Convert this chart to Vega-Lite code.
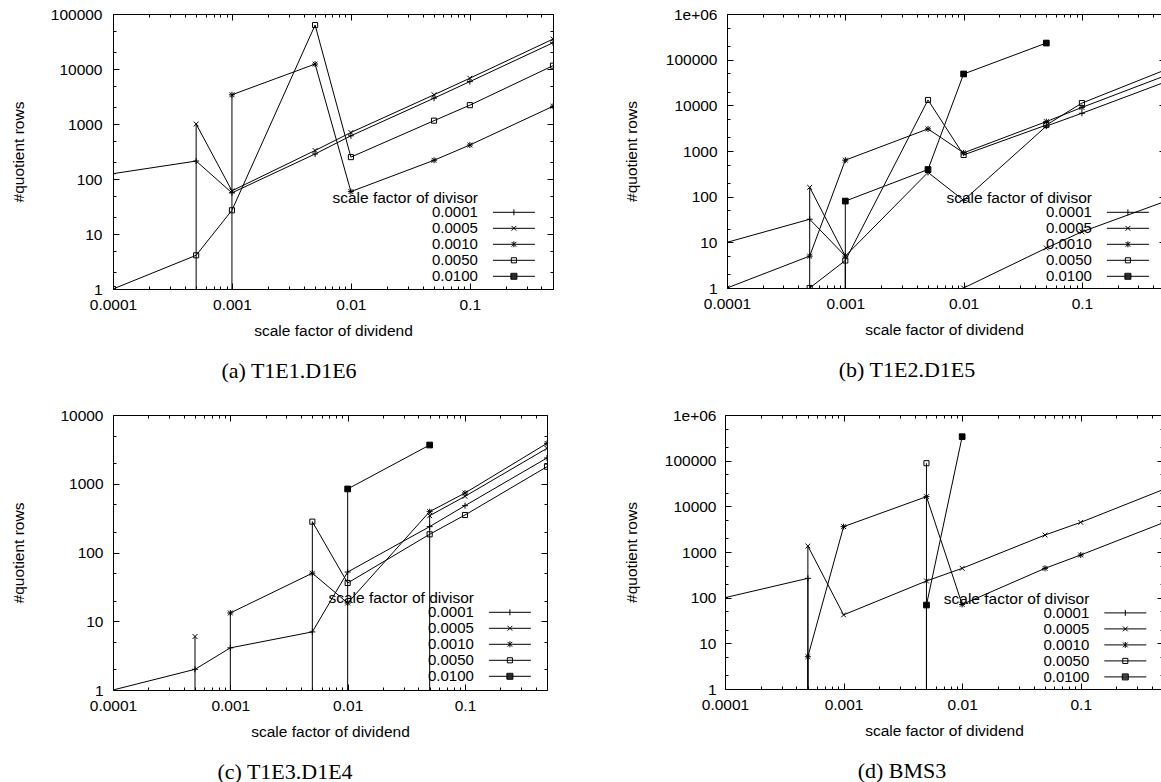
{
  "$schema": "https://vega.github.io/schema/vega-lite/v6.json",
  "background": "white",
  "padding": {"left": 0, "top": 7, "right": 0, "bottom": 0},
  "autosize": {"type": "pad"},
  "datasets": {
    "pts": [
      {"panel":"a","divisor":"0.0001","dividend":0.0001,"rows":125},
      {"panel":"a","divisor":"0.0001","dividend":0.0005,"rows":212},
      {"panel":"a","divisor":"0.0001","dividend":0.001,"rows":56},
      {"panel":"a","divisor":"0.0001","dividend":0.005,"rows":285},
      {"panel":"a","divisor":"0.0001","dividend":0.01,"rows":610},
      {"panel":"a","divisor":"0.0001","dividend":0.05,"rows":2950},
      {"panel":"a","divisor":"0.0001","dividend":0.1,"rows":5900},
      {"panel":"a","divisor":"0.0001","dividend":0.5,"rows":30000},
      {"panel":"a","divisor":"0.0005","dividend":0.0001,"rows":null},
      {"panel":"a","divisor":"0.0005","dividend":0.0005,"rows":1000},
      {"panel":"a","divisor":"0.0005","dividend":0.001,"rows":61},
      {"panel":"a","divisor":"0.0005","dividend":0.005,"rows":330},
      {"panel":"a","divisor":"0.0005","dividend":0.01,"rows":700},
      {"panel":"a","divisor":"0.0005","dividend":0.05,"rows":3400},
      {"panel":"a","divisor":"0.0005","dividend":0.1,"rows":6800},
      {"panel":"a","divisor":"0.0005","dividend":0.5,"rows":35000},
      {"panel":"a","divisor":"0.0010","dividend":0.0001,"rows":null},
      {"panel":"a","divisor":"0.0010","dividend":0.0005,"rows":null},
      {"panel":"a","divisor":"0.0010","dividend":0.001,"rows":3400},
      {"panel":"a","divisor":"0.0010","dividend":0.005,"rows":12300},
      {"panel":"a","divisor":"0.0010","dividend":0.01,"rows":59},
      {"panel":"a","divisor":"0.0010","dividend":0.05,"rows":219},
      {"panel":"a","divisor":"0.0010","dividend":0.1,"rows":415},
      {"panel":"a","divisor":"0.0010","dividend":0.5,"rows":2100},
      {"panel":"a","divisor":"0.0050","dividend":0.0001,"rows":1},
      {"panel":"a","divisor":"0.0050","dividend":0.0005,"rows":4.1},
      {"panel":"a","divisor":"0.0050","dividend":0.001,"rows":27},
      {"panel":"a","divisor":"0.0050","dividend":0.005,"rows":63000},
      {"panel":"a","divisor":"0.0050","dividend":0.01,"rows":250},
      {"panel":"a","divisor":"0.0050","dividend":0.05,"rows":1150},
      {"panel":"a","divisor":"0.0050","dividend":0.1,"rows":2200},
      {"panel":"a","divisor":"0.0050","dividend":0.5,"rows":11500},

      {"panel":"b","divisor":"0.0001","dividend":0.0001,"rows":10},
      {"panel":"b","divisor":"0.0001","dividend":0.0005,"rows":32},
      {"panel":"b","divisor":"0.0001","dividend":0.001,"rows":5},
      {"panel":"b","divisor":"0.0001","dividend":0.005,"rows":340},
      {"panel":"b","divisor":"0.0001","dividend":0.01,"rows":83},
      {"panel":"b","divisor":"0.0001","dividend":0.05,"rows":3500},
      {"panel":"b","divisor":"0.0001","dividend":0.1,"rows":6700},
      {"panel":"b","divisor":"0.0001","dividend":0.5,"rows":32000},
      {"panel":"b","divisor":"0.0005","dividend":0.0001,"rows":null},
      {"panel":"b","divisor":"0.0005","dividend":0.0005,"rows":160},
      {"panel":"b","divisor":"0.0005","dividend":0.001,"rows":5},
      {"panel":"b","divisor":"0.0005","dividend":0.005,"rows":null},
      {"panel":"b","divisor":"0.0005","dividend":0.01,"rows":1},
      {"panel":"b","divisor":"0.0005","dividend":0.05,"rows":7.5},
      {"panel":"b","divisor":"0.0005","dividend":0.1,"rows":17},
      {"panel":"b","divisor":"0.0005","dividend":0.5,"rows":78},
      {"panel":"b","divisor":"0.0010","dividend":0.0001,"rows":1},
      {"panel":"b","divisor":"0.0010","dividend":0.0005,"rows":5},
      {"panel":"b","divisor":"0.0010","dividend":0.001,"rows":630},
      {"panel":"b","divisor":"0.0010","dividend":0.005,"rows":3050},
      {"panel":"b","divisor":"0.0010","dividend":0.01,"rows":910},
      {"panel":"b","divisor":"0.0010","dividend":0.05,"rows":4400},
      {"panel":"b","divisor":"0.0010","dividend":0.1,"rows":9000},
      {"panel":"b","divisor":"0.0010","dividend":0.5,"rows":44000},
      {"panel":"b","divisor":"0.0050","dividend":0.0001,"rows":null},
      {"panel":"b","divisor":"0.0050","dividend":0.0005,"rows":1},
      {"panel":"b","divisor":"0.0050","dividend":0.001,"rows":4},
      {"panel":"b","divisor":"0.0050","dividend":0.005,"rows":13100},
      {"panel":"b","divisor":"0.0050","dividend":0.01,"rows":820},
      {"panel":"b","divisor":"0.0050","dividend":0.05,"rows":3700},
      {"panel":"b","divisor":"0.0050","dividend":0.1,"rows":11200},
      {"panel":"b","divisor":"0.0050","dividend":0.5,"rows":59000},
      {"panel":"b","divisor":"0.0100","dividend":0.0001,"rows":null},
      {"panel":"b","divisor":"0.0100","dividend":0.0005,"rows":null},
      {"panel":"b","divisor":"0.0100","dividend":0.001,"rows":80},
      {"panel":"b","divisor":"0.0100","dividend":0.005,"rows":393},
      {"panel":"b","divisor":"0.0100","dividend":0.01,"rows":48600},
      {"panel":"b","divisor":"0.0100","dividend":0.05,"rows":231000},

      {"panel":"c","divisor":"0.0001","dividend":0.0001,"rows":1},
      {"panel":"c","divisor":"0.0001","dividend":0.0005,"rows":2},
      {"panel":"c","divisor":"0.0001","dividend":0.001,"rows":4.1},
      {"panel":"c","divisor":"0.0001","dividend":0.005,"rows":7},
      {"panel":"c","divisor":"0.0001","dividend":0.01,"rows":52},
      {"panel":"c","divisor":"0.0001","dividend":0.05,"rows":238},
      {"panel":"c","divisor":"0.0001","dividend":0.1,"rows":480},
      {"panel":"c","divisor":"0.0001","dividend":0.5,"rows":2370},
      {"panel":"c","divisor":"0.0005","dividend":0.0001,"rows":null},
      {"panel":"c","divisor":"0.0005","dividend":0.0005,"rows":6},
      {"panel":"c","divisor":"0.0005","dividend":0.001,"rows":null},
      {"panel":"c","divisor":"0.0005","dividend":0.005,"rows":null},
      {"panel":"c","divisor":"0.0005","dividend":0.01,"rows":null},
      {"panel":"c","divisor":"0.0005","dividend":0.05,"rows":343},
      {"panel":"c","divisor":"0.0005","dividend":0.1,"rows":656},
      {"panel":"c","divisor":"0.0005","dividend":0.5,"rows":3275},
      {"panel":"c","divisor":"0.0010","dividend":0.0001,"rows":null},
      {"panel":"c","divisor":"0.0010","dividend":0.0005,"rows":null},
      {"panel":"c","divisor":"0.0010","dividend":0.001,"rows":13.2},
      {"panel":"c","divisor":"0.0010","dividend":0.005,"rows":50},
      {"panel":"c","divisor":"0.0010","dividend":0.01,"rows":18.4},
      {"panel":"c","divisor":"0.0010","dividend":0.05,"rows":393},
      {"panel":"c","divisor":"0.0010","dividend":0.1,"rows":733},
      {"panel":"c","divisor":"0.0010","dividend":0.5,"rows":3870},
      {"panel":"c","divisor":"0.0050","dividend":0.001,"rows":null},
      {"panel":"c","divisor":"0.0050","dividend":0.005,"rows":281},
      {"panel":"c","divisor":"0.0050","dividend":0.01,"rows":36},
      {"panel":"c","divisor":"0.0050","dividend":0.05,"rows":184},
      {"panel":"c","divisor":"0.0050","dividend":0.1,"rows":351},
      {"panel":"c","divisor":"0.0050","dividend":0.5,"rows":1770},
      {"panel":"c","divisor":"0.0100","dividend":0.005,"rows":null},
      {"panel":"c","divisor":"0.0100","dividend":0.01,"rows":840},
      {"panel":"c","divisor":"0.0100","dividend":0.05,"rows":3660},

      {"panel":"d","divisor":"0.0001","dividend":0.0001,"rows":100},
      {"panel":"d","divisor":"0.0001","dividend":0.0005,"rows":265},
      {"panel":"d","divisor":"0.0001","dividend":0.001,"rows":null},
      {"panel":"d","divisor":"0.0005","dividend":0.0001,"rows":null},
      {"panel":"d","divisor":"0.0005","dividend":0.0005,"rows":1350},
      {"panel":"d","divisor":"0.0005","dividend":0.001,"rows":42},
      {"panel":"d","divisor":"0.0005","dividend":0.005,"rows":232},
      {"panel":"d","divisor":"0.0005","dividend":0.01,"rows":439},
      {"panel":"d","divisor":"0.0005","dividend":0.05,"rows":2355},
      {"panel":"d","divisor":"0.0005","dividend":0.1,"rows":4460},
      {"panel":"d","divisor":"0.0005","dividend":0.5,"rows":23500},
      {"panel":"d","divisor":"0.0010","dividend":0.0001,"rows":null},
      {"panel":"d","divisor":"0.0010","dividend":0.0005,"rows":5.1},
      {"panel":"d","divisor":"0.0010","dividend":0.001,"rows":3590},
      {"panel":"d","divisor":"0.0010","dividend":0.005,"rows":16300},
      {"panel":"d","divisor":"0.0010","dividend":0.01,"rows":71},
      {"panel":"d","divisor":"0.0010","dividend":0.05,"rows":439},
      {"panel":"d","divisor":"0.0010","dividend":0.1,"rows":860},
      {"panel":"d","divisor":"0.0010","dividend":0.5,"rows":4400},
      {"panel":"d","divisor":"0.0050","dividend":0.001,"rows":null},
      {"panel":"d","divisor":"0.0050","dividend":0.005,"rows":88000},
      {"panel":"d","divisor":"0.0050","dividend":0.01,"rows":null},
      {"panel":"d","divisor":"0.0100","dividend":0.001,"rows":null},
      {"panel":"d","divisor":"0.0100","dividend":0.005,"rows":69},
      {"panel":"d","divisor":"0.0100","dividend":0.01,"rows":335000}
    ],
    "drops": [
      {"panel":"a","divisor":"0.0005","dividend":0.0005,"rows":1000},
      {"panel":"a","divisor":"0.0010","dividend":0.001,"rows":3400},
      {"panel":"b","divisor":"0.0005","dividend":0.0005,"rows":160},
      {"panel":"b","divisor":"0.0100","dividend":0.001,"rows":80},
      {"panel":"b","divisor":"0.0005","dividend":0.001,"rows":5},
      {"panel":"c","divisor":"0.0005","dividend":0.0005,"rows":6},
      {"panel":"c","divisor":"0.0010","dividend":0.001,"rows":13.2},
      {"panel":"c","divisor":"0.0050","dividend":0.005,"rows":281},
      {"panel":"c","divisor":"0.0100","dividend":0.01,"rows":840},
      {"panel":"c","divisor":"0.0005","dividend":0.05,"rows":343},
      {"panel":"d","divisor":"0.0005","dividend":0.0005,"rows":1350},
      {"panel":"d","divisor":"0.0001","dividend":0.0005,"rows":265},
      {"panel":"d","divisor":"0.0010","dividend":0.0005,"rows":5.1},
      {"panel":"d","divisor":"0.0050","dividend":0.005,"rows":88000},
      {"panel":"d","divisor":"0.0100","dividend":0.005,"rows":69}
    ]
  },
  "config": {
    "view": {"stroke": null},
    "axis": {
      "labelFont": "Liberation Sans", "labelFontSize": 15.5, "labelColor": "black",
      "titleFont": "Liberation Sans", "titleFontSize": 15.5, "titleFontWeight": "normal", "titleColor": "black",
      "domainColor": "black", "domainWidth": 1, "tickColor": "black", "tickWidth": 1, "grid": false,
      "labelOverlap": false, "labelFlush": false
    },
    "legend": {
      "titleFont": "Liberation Sans", "titleFontSize": 15.5, "titleFontWeight": "normal", "titleColor": "black",
      "titlePadding": -1.7, "titleAnchor": "start",
      "labelFont": "Liberation Sans", "labelFontSize": 15, "labelColor": "black",
      "labelAlign": "right", "labelOffset": -43.5, "symbolOffset": 174, "rowPadding": 0,
      "symbolSize": 36, "symbolStrokeWidth": 1, "symbolStrokeColor": "black", "padding": 0
    },
    "title": {"font": "Liberation Serif", "fontSize": 22, "fontWeight": "normal", "color": "black", "orient": "bottom", "frame": "group", "anchor": "middle", "offset": 22}
  },
  "spacing": 26,
  "resolve": {"scale": {"shape": "independent"}, "legend": {"shape": "independent"}},
  "vconcat": [
    {
      "spacing": 69,
      "resolve": {"scale": {"shape": "independent"}, "legend": {"shape": "independent"}},
      "hconcat": [
        {
          "width": 440, "height": 275,
          "title": {"text": "(a) T1E1.D1E6", "dx": -44},
          "resolve": {"axis": {"x": "independent", "y": "independent"}, "scale": {"shape": "independent"}},
          "layer": [
            {
              "data": {"name": "pts"},
              "transform": [{"filter": "datum.panel === 'a'"}],
              "mark": {"type": "line", "color": "black", "strokeWidth": 1, "clip": true, "invalid": "break-paths-filter-domains"},
              "encoding": {
                "x": {"field": "dividend", "type": "quantitative", "scale": {"type": "log", "domain": [0.0001, 0.5], "nice": false},
                  "axis": {"orient": "bottom", "values": [0.0001,0.0002,0.0003,0.0004,0.0005,0.0006,0.0007,0.0008,0.0009,0.001,0.002,0.003,0.004,0.005,0.006,0.007,0.008,0.009,0.01,0.02,0.03,0.04,0.05,0.06,0.07,0.08,0.09,0.1,0.2,0.3,0.4],
                    "labelExpr": "abs(log(datum.value)/LN10-round(log(datum.value)/LN10))<0.001 ? toString(datum.value) : ''",
                    "tickSize": {"condition": {"test": "abs(log(datum.value)/LN10-round(log(datum.value)/LN10))<0.001", "value": -6}, "value": -3},
                    "labelPadding": 14, "title": "scale factor of dividend", "titlePadding": 8}},
                "y": {"field": "rows", "type": "quantitative", "scale": {"type": "log", "domain": [1, 100000], "nice": false},
                  "axis": {"orient": "left", "values": [1,2,5,10,20,50,100,200,500,1000,2000,5000,10000,20000,50000,100000],
                    "labelExpr": "abs(log(datum.value)/LN10-round(log(datum.value)/LN10))<0.001 ? (datum.value > 999999 ? '1e+06' : toString(datum.value)) : ''",
                    "tickSize": {"condition": {"test": "abs(log(datum.value)/LN10-round(log(datum.value)/LN10))<0.001", "value": -6}, "value": -3},
                    "labelPadding": 17, "title": "#quotient rows", "titleX": -87, "minExtent": 113, "maxExtent": 113}},
                "detail": {"field": "divisor"}
              }
            },
            {
              "data": {"name": "drops"},
              "transform": [{"filter": "datum.panel === 'a'"}],
              "mark": {"type": "rule", "color": "black", "strokeWidth": 1, "clip": true},
              "encoding": {
                "x": {"field": "dividend", "type": "quantitative", "axis": null},
                "y": {"field": "rows", "type": "quantitative", "axis": null},
                "y2": {"datum": 1}
              }
            },
            {
              "data": {"name": "pts"},
              "transform": [{"filter": "datum.panel === 'a'"}],
              "mark": {"type": "point", "clip": true, "size": 36, "strokeWidth": 1, "opacity": 1},
              "encoding": {
                "x": {"field": "dividend", "type": "quantitative",
                  "axis": {"orient": "top", "values": [0.0001,0.0002,0.0003,0.0004,0.0005,0.0006,0.0007,0.0008,0.0009,0.001,0.002,0.003,0.004,0.005,0.006,0.007,0.008,0.009,0.01,0.02,0.03,0.04,0.05,0.06,0.07,0.08,0.09,0.1,0.2,0.3,0.4],
                    "labels": false, "title": null, "minExtent": 0, "maxExtent": 0,
                    "tickSize": {"condition": {"test": "abs(log(datum.value)/LN10-round(log(datum.value)/LN10))<0.001", "value": -6}, "value": -3}}},
                "y": {"field": "rows", "type": "quantitative",
                  "axis": {"orient": "right", "values": [1,2,5,10,20,50,100,200,500,1000,2000,5000,10000,20000,50000,100000],
                    "labels": false, "title": null, "minExtent": 0, "maxExtent": 0,
                    "tickSize": {"condition": {"test": "abs(log(datum.value)/LN10-round(log(datum.value)/LN10))<0.001", "value": -6}, "value": -3}}},
                "shape": {"field": "divisor", "type": "nominal", "legend": null,
                  "scale": {"domain": ["0.0001","0.0005","0.0010","0.0050","0.0100"],
                    "range": ["M-1,0H1M0,-1V1", "M-0.8,-0.8L0.8,0.8M-0.8,0.8L0.8,-0.8", "M-1,0H1M0,-1V1M-0.8,-0.8L0.8,0.8M-0.8,0.8L0.8,-0.8", "M-0.85,-0.85H0.85V0.85H-0.85Z", "M-0.95,-0.95H0.95V0.95H-0.95Z"]}},
                "fill": {"condition": {"test": "datum.divisor === '0.0100'", "value": "black"}, "value": "transparent"},
                "stroke": {"value": "black"}
              }
            },
            {
              "data": {"name": "pts"},
              "transform": [{"filter": "false"}],
              "mark": {"type": "point", "size": 36, "strokeWidth": 1, "opacity": 1, "color": "black", "filled": false},
              "encoding": {
                "shape": {"field": "divisor", "type": "nominal",
                  "scale": {"domain": ["0.0001","0.0005","0.0010","0.0050","0.0100"],
                    "range": ["M-7,0H7M0,-1V1", "M-7,0H7M-0.8,-0.8L0.8,0.8M-0.8,0.8L0.8,-0.8", "M-7,0H7M0,-1V1M-0.8,-0.8L0.8,0.8M-0.8,0.8L0.8,-0.8", "M-7,0H7M-0.85,-0.85H0.85V0.85H-0.85Z", "M-7,0H7M-1,-1H1V1H-1ZM-1,-0.67H1M-1,-0.33H1M-1,0.33H1M-1,0.67H1"]},
                  "legend": {"orient": "none", "direction": "vertical", "legendX": 219.4, "legendY": 177, "rowPadding": 0, "title": "scale factor of divisor"}},
                "stroke": {"value": "black"}
              }
            }
          ]
        },
        {
          "width": 434, "height": 274,
          "title": {"text": "(b) T1E2.D1E5", "dx": -37},
          "resolve": {"axis": {"x": "independent", "y": "independent"}, "scale": {"shape": "independent"}},
          "layer": [
            {
              "data": {"name": "pts"},
              "transform": [{"filter": "datum.panel === 'b'"}],
              "mark": {"type": "line", "color": "black", "strokeWidth": 1, "clip": true, "invalid": "break-paths-filter-domains"},
              "encoding": {
                "x": {"field": "dividend", "type": "quantitative", "scale": {"type": "log", "domain": [0.0001, 0.466], "nice": false},
                  "axis": {"orient": "bottom", "values": [0.0001,0.0002,0.0003,0.0004,0.0005,0.0006,0.0007,0.0008,0.0009,0.001,0.002,0.003,0.004,0.005,0.006,0.007,0.008,0.009,0.01,0.02,0.03,0.04,0.05,0.06,0.07,0.08,0.09,0.1,0.2,0.3,0.4],
                    "labelExpr": "abs(log(datum.value)/LN10-round(log(datum.value)/LN10))<0.001 ? toString(datum.value) : ''",
                    "tickSize": {"condition": {"test": "abs(log(datum.value)/LN10-round(log(datum.value)/LN10))<0.001", "value": -6}, "value": -3},
                    "labelPadding": 14, "title": "scale factor of dividend", "titlePadding": 8}},
                "y": {"field": "rows", "type": "quantitative", "scale": {"type": "log", "domain": [1, 1000000], "nice": false},
                  "axis": {"orient": "left", "values": [1,2,5,10,20,50,100,200,500,1000,2000,5000,10000,20000,50000,100000,200000,500000,1000000],
                    "labelExpr": "abs(log(datum.value)/LN10-round(log(datum.value)/LN10))<0.001 ? (datum.value > 999999 ? '1e+06' : toString(datum.value)) : ''",
                    "tickSize": {"condition": {"test": "abs(log(datum.value)/LN10-round(log(datum.value)/LN10))<0.001", "value": -6}, "value": -3},
                    "labelPadding": 16, "title": "#quotient rows", "titleX": -88, "minExtent": 100, "maxExtent": 100}},
                "detail": {"field": "divisor"}
              }
            },
            {
              "data": {"name": "drops"},
              "transform": [{"filter": "datum.panel === 'b'"}],
              "mark": {"type": "rule", "color": "black", "strokeWidth": 1, "clip": true},
              "encoding": {
                "x": {"field": "dividend", "type": "quantitative", "axis": null},
                "y": {"field": "rows", "type": "quantitative", "axis": null},
                "y2": {"datum": 1}
              }
            },
            {
              "data": {"name": "pts"},
              "transform": [{"filter": "datum.panel === 'b'"}],
              "mark": {"type": "point", "clip": true, "size": 36, "strokeWidth": 1, "opacity": 1},
              "encoding": {
                "x": {"field": "dividend", "type": "quantitative",
                  "axis": {"orient": "top", "values": [0.0001,0.0002,0.0003,0.0004,0.0005,0.0006,0.0007,0.0008,0.0009,0.001,0.002,0.003,0.004,0.005,0.006,0.007,0.008,0.009,0.01,0.02,0.03,0.04,0.05,0.06,0.07,0.08,0.09,0.1,0.2,0.3,0.4],
                    "labels": false, "title": null, "minExtent": 0, "maxExtent": 0,
                    "tickSize": {"condition": {"test": "abs(log(datum.value)/LN10-round(log(datum.value)/LN10))<0.001", "value": -6}, "value": -3}}},
                "y": {"field": "rows", "type": "quantitative",
                  "axis": {"orient": "right", "values": [1,10,100,1000,10000,100000,1000000],
                    "labels": false, "title": null, "minExtent": 0, "maxExtent": 0, "domain": false, "tickSize": -2}},
                "shape": {"field": "divisor", "type": "nominal", "legend": null,
                  "scale": {"domain": ["0.0001","0.0005","0.0010","0.0050","0.0100"],
                    "range": ["M-1,0H1M0,-1V1", "M-0.8,-0.8L0.8,0.8M-0.8,0.8L0.8,-0.8", "M-1,0H1M0,-1V1M-0.8,-0.8L0.8,0.8M-0.8,0.8L0.8,-0.8", "M-0.85,-0.85H0.85V0.85H-0.85Z", "M-0.95,-0.95H0.95V0.95H-0.95Z"]}},
                "fill": {"condition": {"test": "datum.divisor === '0.0100'", "value": "black"}, "value": "transparent"},
                "stroke": {"value": "black"}
              }
            },
            {
              "data": {"name": "pts"},
              "transform": [{"filter": "false"}],
              "mark": {"type": "point", "size": 36, "strokeWidth": 1, "opacity": 1, "color": "black", "filled": false},
              "encoding": {
                "shape": {"field": "divisor", "type": "nominal",
                  "scale": {"domain": ["0.0001","0.0005","0.0010","0.0050","0.0100"],
                    "range": ["M-7,0H7M0,-1V1", "M-7,0H7M-0.8,-0.8L0.8,0.8M-0.8,0.8L0.8,-0.8", "M-7,0H7M0,-1V1M-0.8,-0.8L0.8,0.8M-0.8,0.8L0.8,-0.8", "M-7,0H7M-0.85,-0.85H0.85V0.85H-0.85Z", "M-7,0H7M-1,-1H1V1H-1ZM-1,-0.67H1M-1,-0.33H1M-1,0.33H1M-1,0.67H1"]},
                  "legend": {"orient": "none", "direction": "vertical", "legendX": 219.4, "legendY": 177, "rowPadding": 0, "title": "scale factor of divisor"}},
                "stroke": {"value": "black"}
              }
            }
          ]
        }
      ]
    },
    {
      "spacing": 75,
      "resolve": {"scale": {"shape": "independent"}, "legend": {"shape": "independent"}},
      "hconcat": [
        {
          "width": 434, "height": 275,
          "title": {"text": "(c) T1E3.D1E4", "dx": -45},
          "resolve": {"axis": {"x": "independent", "y": "independent"}, "scale": {"shape": "independent"}},
          "layer": [
            {
              "data": {"name": "pts"},
              "transform": [{"filter": "datum.panel === 'c'"}],
              "mark": {"type": "line", "color": "black", "strokeWidth": 1, "clip": true, "invalid": "break-paths-filter-domains"},
              "encoding": {
                "x": {"field": "dividend", "type": "quantitative", "scale": {"type": "log", "domain": [0.0001, 0.5], "nice": false},
                  "axis": {"orient": "bottom", "values": [0.0001,0.0002,0.0003,0.0004,0.0005,0.0006,0.0007,0.0008,0.0009,0.001,0.002,0.003,0.004,0.005,0.006,0.007,0.008,0.009,0.01,0.02,0.03,0.04,0.05,0.06,0.07,0.08,0.09,0.1,0.2,0.3,0.4],
                    "labelExpr": "abs(log(datum.value)/LN10-round(log(datum.value)/LN10))<0.001 ? toString(datum.value) : ''",
                    "tickSize": {"condition": {"test": "abs(log(datum.value)/LN10-round(log(datum.value)/LN10))<0.001", "value": -6}, "value": -3},
                    "labelPadding": 14, "title": "scale factor of dividend", "titlePadding": 8}},
                "y": {"field": "rows", "type": "quantitative", "scale": {"type": "log", "domain": [1, 10000], "nice": false},
                  "axis": {"orient": "left", "values": [1,2,5,10,20,50,100,200,500,1000,2000,5000,10000],
                    "labelExpr": "abs(log(datum.value)/LN10-round(log(datum.value)/LN10))<0.001 ? (datum.value > 999999 ? '1e+06' : toString(datum.value)) : ''",
                    "tickSize": {"condition": {"test": "abs(log(datum.value)/LN10-round(log(datum.value)/LN10))<0.001", "value": -6}, "value": -3},
                    "labelPadding": 16, "title": "#quotient rows", "titleX": -87, "minExtent": 113, "maxExtent": 113}},
                "detail": {"field": "divisor"}
              }
            },
            {
              "data": {"name": "drops"},
              "transform": [{"filter": "datum.panel === 'c'"}],
              "mark": {"type": "rule", "color": "black", "strokeWidth": 1, "clip": true},
              "encoding": {
                "x": {"field": "dividend", "type": "quantitative", "axis": null},
                "y": {"field": "rows", "type": "quantitative", "axis": null},
                "y2": {"datum": 1}
              }
            },
            {
              "data": {"name": "pts"},
              "transform": [{"filter": "datum.panel === 'c'"}],
              "mark": {"type": "point", "clip": true, "size": 36, "strokeWidth": 1, "opacity": 1},
              "encoding": {
                "x": {"field": "dividend", "type": "quantitative",
                  "axis": {"orient": "top", "values": [0.0001,0.0002,0.0003,0.0004,0.0005,0.0006,0.0007,0.0008,0.0009,0.001,0.002,0.003,0.004,0.005,0.006,0.007,0.008,0.009,0.01,0.02,0.03,0.04,0.05,0.06,0.07,0.08,0.09,0.1,0.2,0.3,0.4],
                    "labels": false, "title": null, "minExtent": 0, "maxExtent": 0,
                    "tickSize": {"condition": {"test": "abs(log(datum.value)/LN10-round(log(datum.value)/LN10))<0.001", "value": -6}, "value": -3}}},
                "y": {"field": "rows", "type": "quantitative",
                  "axis": {"orient": "right", "values": [1,2,5,10,20,50,100,200,500,1000,2000,5000,10000],
                    "labels": false, "title": null, "minExtent": 0, "maxExtent": 0,
                    "tickSize": {"condition": {"test": "abs(log(datum.value)/LN10-round(log(datum.value)/LN10))<0.001", "value": -6}, "value": -3}}},
                "shape": {"field": "divisor", "type": "nominal", "legend": null,
                  "scale": {"domain": ["0.0001","0.0005","0.0010","0.0050","0.0100"],
                    "range": ["M-1,0H1M0,-1V1", "M-0.8,-0.8L0.8,0.8M-0.8,0.8L0.8,-0.8", "M-1,0H1M0,-1V1M-0.8,-0.8L0.8,0.8M-0.8,0.8L0.8,-0.8", "M-0.85,-0.85H0.85V0.85H-0.85Z", "M-0.95,-0.95H0.95V0.95H-0.95Z"]}},
                "fill": {"condition": {"test": "datum.divisor === '0.0100'", "value": "black"}, "value": "transparent"},
                "stroke": {"value": "black"}
              }
            },
            {
              "data": {"name": "pts"},
              "transform": [{"filter": "false"}],
              "mark": {"type": "point", "size": 36, "strokeWidth": 1, "opacity": 1, "color": "black", "filled": false},
              "encoding": {
                "shape": {"field": "divisor", "type": "nominal",
                  "scale": {"domain": ["0.0001","0.0005","0.0010","0.0050","0.0100"],
                    "range": ["M-7,0H7M0,-1V1", "M-7,0H7M-0.8,-0.8L0.8,0.8M-0.8,0.8L0.8,-0.8", "M-7,0H7M0,-1V1M-0.8,-0.8L0.8,0.8M-0.8,0.8L0.8,-0.8", "M-7,0H7M-0.85,-0.85H0.85V0.85H-0.85Z", "M-7,0H7M-1,-1H1V1H-1ZM-1,-0.67H1M-1,-0.33H1M-1,0.33H1M-1,0.67H1"]},
                  "legend": {"orient": "none", "direction": "vertical", "legendX": 215.4, "legendY": 176, "rowPadding": 0, "title": "scale factor of divisor"}},
                "stroke": {"value": "black"}
              }
            }
          ]
        },
        {
          "width": 438, "height": 274,
          "title": {"text": "(d) BMS3", "dx": -42},
          "resolve": {"axis": {"x": "independent", "y": "independent"}, "scale": {"shape": "independent"}},
          "layer": [
            {
              "data": {"name": "pts"},
              "transform": [{"filter": "datum.panel === 'd'"}],
              "mark": {"type": "line", "color": "black", "strokeWidth": 1, "clip": true, "invalid": "break-paths-filter-domains"},
              "encoding": {
                "x": {"field": "dividend", "type": "quantitative", "scale": {"type": "log", "domain": [0.0001, 0.494], "nice": false},
                  "axis": {"orient": "bottom", "values": [0.0001,0.0002,0.0003,0.0004,0.0005,0.0006,0.0007,0.0008,0.0009,0.001,0.002,0.003,0.004,0.005,0.006,0.007,0.008,0.009,0.01,0.02,0.03,0.04,0.05,0.06,0.07,0.08,0.09,0.1,0.2,0.3,0.4],
                    "labelExpr": "abs(log(datum.value)/LN10-round(log(datum.value)/LN10))<0.001 ? toString(datum.value) : ''",
                    "tickSize": {"condition": {"test": "abs(log(datum.value)/LN10-round(log(datum.value)/LN10))<0.001", "value": -6}, "value": -3},
                    "labelPadding": 14, "title": "scale factor of dividend", "titlePadding": 8}},
                "y": {"field": "rows", "type": "quantitative", "scale": {"type": "log", "domain": [1, 1000000], "nice": false},
                  "axis": {"orient": "left", "values": [1,2,5,10,20,50,100,200,500,1000,2000,5000,10000,20000,50000,100000,200000,500000,1000000],
                    "labelExpr": "abs(log(datum.value)/LN10-round(log(datum.value)/LN10))<0.001 ? (datum.value > 999999 ? '1e+06' : toString(datum.value)) : ''",
                    "tickSize": {"condition": {"test": "abs(log(datum.value)/LN10-round(log(datum.value)/LN10))<0.001", "value": -6}, "value": -3},
                    "labelPadding": 15, "title": "#quotient rows", "titleX": -86, "minExtent": 100, "maxExtent": 100}},
                "detail": {"field": "divisor"}
              }
            },
            {
              "data": {"name": "drops"},
              "transform": [{"filter": "datum.panel === 'd'"}],
              "mark": {"type": "rule", "color": "black", "strokeWidth": 1, "clip": true},
              "encoding": {
                "x": {"field": "dividend", "type": "quantitative", "axis": null},
                "y": {"field": "rows", "type": "quantitative", "axis": null},
                "y2": {"datum": 1}
              }
            },
            {
              "data": {"name": "pts"},
              "transform": [{"filter": "datum.panel === 'd'"}],
              "mark": {"type": "point", "clip": true, "size": 36, "strokeWidth": 1, "opacity": 1},
              "encoding": {
                "x": {"field": "dividend", "type": "quantitative",
                  "axis": {"orient": "top", "values": [0.0001,0.0002,0.0003,0.0004,0.0005,0.0006,0.0007,0.0008,0.0009,0.001,0.002,0.003,0.004,0.005,0.006,0.007,0.008,0.009,0.01,0.02,0.03,0.04,0.05,0.06,0.07,0.08,0.09,0.1,0.2,0.3,0.4],
                    "labels": false, "title": null, "minExtent": 0, "maxExtent": 0,
                    "tickSize": {"condition": {"test": "abs(log(datum.value)/LN10-round(log(datum.value)/LN10))<0.001", "value": -6}, "value": -3}}},
                "y": {"field": "rows", "type": "quantitative",
                  "axis": {"orient": "right", "values": [1,2,5,10,20,50,100,200,500,1000,2000,5000,10000,20000,50000,100000,200000,500000,1000000],
                    "labels": false, "title": null, "minExtent": 0, "maxExtent": 0, "domain": false,
                    "tickSize": {"condition": {"test": "abs(log(datum.value)/LN10-round(log(datum.value)/LN10))<0.001", "value": -6}, "value": -3}}},
                "shape": {"field": "divisor", "type": "nominal", "legend": null,
                  "scale": {"domain": ["0.0001","0.0005","0.0010","0.0050","0.0100"],
                    "range": ["M-1,0H1M0,-1V1", "M-0.8,-0.8L0.8,0.8M-0.8,0.8L0.8,-0.8", "M-1,0H1M0,-1V1M-0.8,-0.8L0.8,0.8M-0.8,0.8L0.8,-0.8", "M-0.85,-0.85H0.85V0.85H-0.85Z", "M-0.95,-0.95H0.95V0.95H-0.95Z"]}},
                "fill": {"condition": {"test": "datum.divisor === '0.0100'", "value": "black"}, "value": "transparent"},
                "stroke": {"value": "black"}
              }
            },
            {
              "data": {"name": "pts"},
              "transform": [{"filter": "false"}],
              "mark": {"type": "point", "size": 36, "strokeWidth": 1, "opacity": 1, "color": "black", "filled": false},
              "encoding": {
                "shape": {"field": "divisor", "type": "nominal",
                  "scale": {"domain": ["0.0001","0.0005","0.0010","0.0050","0.0100"],
                    "range": ["M-7,0H7M0,-1V1", "M-7,0H7M-0.8,-0.8L0.8,0.8M-0.8,0.8L0.8,-0.8", "M-7,0H7M0,-1V1M-0.8,-0.8L0.8,0.8M-0.8,0.8L0.8,-0.8", "M-7,0H7M-0.85,-0.85H0.85V0.85H-0.85Z", "M-7,0H7M-1,-1H1V1H-1ZM-1,-0.67H1M-1,-0.33H1M-1,0.33H1M-1,0.67H1"]},
                  "legend": {"orient": "none", "direction": "vertical", "legendX": 218.8, "legendY": 176.6, "rowPadding": 0, "title": "scale factor of divisor"}},
                "stroke": {"value": "black"}
              }
            }
          ]
        }
      ]
    }
  ]
}
